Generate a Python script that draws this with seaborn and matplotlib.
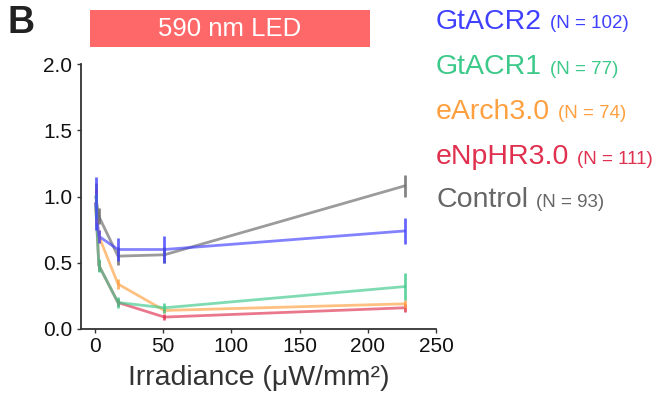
import numpy as np
import pandas as pd
import matplotlib
matplotlib.use("Agg")
import matplotlib.pyplot as plt
import seaborn as sns
from matplotlib.patches import Rectangle

sns.set_style("ticks")
plt.rcParams['font.family'] = ['Liberation Sans', 'DejaVu Sans']

irradiance = [0.7, 3, 17, 51, 227]
groups = ["Control", "eNpHR3.0", "eArch3.0", "GtACR1", "GtACR2"]
n_counts = {"GtACR2": 102, "GtACR1": 77, "eArch3.0": 74, "eNpHR3.0": 111, "Control": 93}
colors = {"GtACR2": "#4040ff", "GtACR1": "#3cc98a", "eArch3.0": "#ffa040",
          "eNpHR3.0": "#e0304f", "Control": "#666666"}
mean_gtacr2 = [0.95, 0.70, 0.60, 0.60, 0.74]
err_gtacr2 = [0.20, 0.05, 0.09, 0.10, 0.10]
mean_gtacr1 = [0.93, 0.48, 0.20, 0.16, 0.32]
err_gtacr1 = [0.10, 0.05, 0.04, 0.04, 0.10]
mean_earch = [0.90, 0.70, 0.34, 0.14, 0.19]
err_earch = [0.10, 0.05, 0.04, 0.02, 0.03]
mean_enphr = [0.95, 0.48, 0.20, 0.09, 0.16]
err_enphr = [0.10, 0.04, 0.03, 0.02, 0.03]
mean_control = [1.00, 0.85, 0.55, 0.56, 1.08]
err_control = [0.10, 0.06, 0.07, 0.06, 0.08]

means = {"GtACR2": mean_gtacr2, "GtACR1": mean_gtacr1, "eArch3.0": mean_earch,
         "eNpHR3.0": mean_enphr, "Control": mean_control}
errs = {"GtACR2": err_gtacr2, "GtACR1": err_gtacr1, "eArch3.0": err_earch,
        "eNpHR3.0": err_enphr, "Control": err_control}

rows = []
for g in groups:
    for x, m, e in zip(irradiance, means[g], errs[g]):
        rows.append({"group": g, "irr": x, "mean": m, "err": e})
df = pd.DataFrame(rows)

fig = plt.figure(figsize=(6.65, 3.97), dpi=100)
ax = fig.add_axes([80.7 / 665, 1 - 329 / 397, 355.3 / 665, 265 / 397])

sns.lineplot(data=df, x="irr", y="mean", hue="group", palette=colors,
             hue_order=groups, errorbar=None, legend=False, linewidth=2,
             alpha=0.65, ax=ax)
for g in groups:
    sub = df[df.group == g]
    ax.vlines(sub["irr"], sub["mean"] - sub["err"], sub["mean"] + sub["err"],
              color=colors[g], linewidth=2, alpha=0.8)

ax.set_xlim(-10.3, 250)
ax.set_ylim(0, 2.0)
ax.set_xticks([0, 50, 100, 150, 200, 250])
ax.set_yticks([0.0, 0.5, 1.0, 1.5, 2.0])
ax.set_yticklabels(["0.0", "0.5", "1.0", "1.5", "2.0"])
ax.tick_params(labelsize=15, length=3, width=1, colors="#333333",
               labelcolor="#111111", pad=3)
for s in ["left", "bottom"]:
    ax.spines[s].set_linewidth(1.3)
    ax.spines[s].set_color("#333333")
sns.despine(ax=ax)
ax.set_xlabel("Irradiance (μW/mm²)", fontsize=20.5, color="#333333", labelpad=6)
ax.set_ylabel("")

# LED bar
fig.patches.append(Rectangle((90 / 665, 1 - 47 / 397), 280 / 665, 37 / 397,
                             transform=fig.transFigure, facecolor="#ff6868",
                             edgecolor="none"))
fig.text(230 / 665, 1 - 29 / 397, "590 nm LED", color="white", fontsize=18.5,
         ha="center", va="center")
fig.text(8 / 665, 1 - 23 / 397, "B", fontsize=27, fontweight="bold",
         ha="left", va="center", color="#222222")

legend_order = ["GtACR2", "GtACR1", "eArch3.0", "eNpHR3.0", "Control"]
ys = [22, 67, 112, 157, 200]
for g, yp in zip(legend_order, ys):
    t = fig.text(436 / 665, 1 - yp / 397, g, color=colors[g], fontsize=20.5,
                 ha="left", va="center")
    fig.canvas.draw()
    bb = t.get_window_extent()
    fig.text((bb.x1 + 8) / 665, 1 - (yp + 2) / 397, f"(N = {n_counts[g]})",
             color=colors[g], fontsize=13.5, ha="left", va="center")

fig.savefig("out.png", dpi=100)
